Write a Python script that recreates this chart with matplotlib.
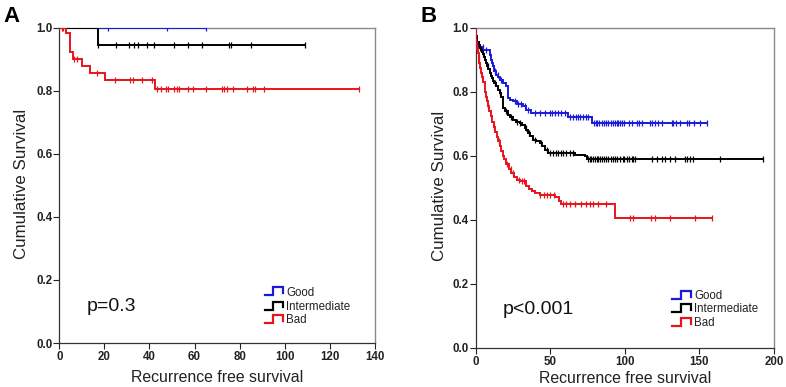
import numpy as np
import matplotlib
matplotlib.use("Agg")
import matplotlib.pyplot as plt

plt.rcParams['font.family'] = ['Liberation Sans', 'DejaVu Sans']

# ---------------- data ----------------
group_names = ["Good", "Intermediate", "Bad"]
group_colors = ["#1a1adc", "#000000", "#e8141c"]

# Panel A
A_good_events = []
A_good_surv = []
A_good_censor = [21.7, 47.9, 65.0]

A_int_events = [17.0]
A_int_surv = [0.944]
A_int_censor = [17.2, 25.0, 31.0, 33.1, 35.0, 38.9, 42.1, 50.9, 57.1, 63.1, 75.1, 76.0, 84.9, 109.1]

A_bad_events = [2.8, 4.7, 5.9, 9.9, 13.8, 20.3, 42.4]
A_bad_surv = [0.983, 0.922, 0.902, 0.877, 0.856, 0.834, 0.805]
A_bad_censor = [1.2, 1.8, 6.4, 7.9, 16.6, 24.7, 31.3, 32.8, 36.8, 40.9, 43.2, 45.1, 47.2, 48.4,
                50.7, 52.0, 53.1, 56.9, 59.4, 64.9, 72.3, 73.2, 74.2, 77.2, 83.2, 86.0, 86.9, 90.9, 133.0]

# Panel B
B_good_events = [0.2, 1, 5, 9.4, 10, 11, 11.6, 12.5, 13.8, 15, 16.1, 18, 20.6, 21.7, 23, 25, 28,
                 31.7, 34, 37.3, 61.9, 78.2]
B_good_surv = [0.975, 0.94, 0.931, 0.915, 0.90, 0.89, 0.879, 0.866, 0.853, 0.845, 0.8375, 0.827,
               0.817, 0.78, 0.775, 0.77, 0.762, 0.754, 0.744, 0.733, 0.722, 0.702]
B_good_censor = [4.9, 7.1, 12.7, 14.9, 17.1, 26.1, 28.4, 30.6, 32.9, 35.1, 39.6, 43.0, 46.3, 49.6,
                 51.4, 52.9, 55.2, 57.4, 59.7, 63.0, 65.3, 67.0, 68.6, 70.2, 71.9, 73.7, 75.3, 79.5,
                 80.5, 81.6, 82.5, 84.5, 86.0, 87.4, 89.0, 90.5, 91.9, 93.4, 94.6, 95.7, 96.8, 97.9,
                 99.5, 103.0, 104.6, 108.4, 109.7, 111.3, 116.9, 118.0, 120.3, 121.9, 124.8, 131.5,
                 132.6, 134.4, 137.1, 141.6, 142.7, 146.5, 150.5, 155.0]

B_int_events = [0.2, 1.0, 2.0, 2.7, 3.5, 4.2, 4.9, 5.5, 6.2, 7.1, 7.8, 8.5, 9.4, 10.2, 11.0, 11.6,
                12.5, 13.8, 15.0, 16.0, 17.1, 18.2, 19.5, 21.6, 23.0, 25.0, 27.0, 29.5, 31.0, 32.9,
                34.0, 35.1, 36.5, 38.5, 40.5, 42.9, 44.5, 46.3, 48.6, 66.4, 73.2, 74.3]
B_int_surv = [0.975, 0.955, 0.947, 0.937, 0.93, 0.925, 0.918, 0.91, 0.90, 0.89, 0.88, 0.87, 0.858,
              0.85, 0.843, 0.835, 0.826, 0.817, 0.805, 0.795, 0.785, 0.749, 0.74, 0.728, 0.72,
              0.7125, 0.707, 0.702, 0.695, 0.687, 0.68, 0.67, 0.662, 0.65, 0.645, 0.64, 0.63,
              0.619, 0.608, 0.603, 0.598, 0.59]
B_int_censor = [3.0, 5.2, 8.0, 13.0, 16.5, 20.0, 24.0, 27.5, 30.0, 33.5, 36.0, 40.0, 44.0, 47.5,
                49.6, 51.8, 54.1, 55.2, 57.4, 58.5, 60.8, 63.0, 65.3, 75.3, 76.5, 77.6, 78.8, 80.0,
                81.0, 82.0, 83.2, 84.5, 86.0, 87.4, 89.0, 90.5, 91.9, 93.4, 94.9, 96.8, 98.6, 99.5,
                101.3, 103.1, 104.6, 105.7, 106.9, 118.0, 121.4, 124.7, 127.0, 130.3, 133.7, 140.4,
                142.0, 143.7, 146.0, 163.8, 192.5]

B_bad_events = [0.2, 0.5, 1, 1.5, 2, 2.5, 3, 3.5, 4, 5, 6, 6.5, 7, 7.5, 8, 9, 10, 11, 12, 13, 14,
                15, 16, 17, 18, 19, 20, 22, 24, 26, 28, 30, 34, 36, 38, 40, 43, 53.4, 55.7, 57.3, 93.6]
B_bad_surv = [0.975, 0.955, 0.935, 0.92, 0.905, 0.89, 0.875, 0.86, 0.845, 0.83, 0.815, 0.80, 0.785,
              0.77, 0.755, 0.74, 0.725, 0.705, 0.69, 0.675, 0.66, 0.645, 0.63, 0.615, 0.60, 0.59,
              0.575, 0.56, 0.545, 0.535, 0.525, 0.52, 0.505, 0.495, 0.49, 0.485, 0.478, 0.47, 0.46,
              0.45, 0.405]
B_bad_censor = [1.2, 2.2, 4.5, 8.5, 12.5, 15.5, 21.0, 23.5, 25.0, 29.0, 31.0, 32.5, 43.3, 45.6, 47.8,
                50.1, 52.3, 58.5, 60.8, 63.0, 66.4, 70.8, 74.2, 76.4, 78.6, 82.0, 87.6, 103.2, 105.5,
                117.8, 120.1, 130.1, 146.9, 158.7]

A_xticks = [0, 20, 40, 60, 80, 100, 120, 140]
B_xticks = [0, 50, 100, 150, 200]
yticks = [0.0, 0.2, 0.4, 0.6, 0.8, 1.0]
p_texts = ["p=0.3", "p<0.001"]
panel_labels = ["A", "B"]


def step_value(events, surv, t):
    ev = np.asarray(events, float)
    sv = np.concatenate([[1.0], np.asarray(surv, float)])
    idx = np.searchsorted(ev, t, side='right')
    return sv[idx]


def km(ax, events, surv, censor, color):
    end = max(list(censor) + list(events))
    t = np.concatenate([[0.0], events, [end]])
    s = np.concatenate([[1.0], surv, [surv[-1] if len(surv) else 1.0]])
    ax.step(t, s, where='post', color=color, lw=1.4, solid_joinstyle='miter', zorder=3)
    cy = [step_value(events, surv, c) for c in censor]
    ax.plot(censor, cy, linestyle='none', marker='|', ms=5, mew=0.9, color=color, zorder=3)


fig = plt.figure(figsize=(7.86, 3.87), dpi=100)
W, H = 786, 387

def add_axes_px(l, r, t, b):
    return fig.add_axes([l / W, (H - b) / H, (r - l) / W, (b - t) / H])

axA = add_axes_px(59.3, 375.0, 27.7, 343.0)
axB = add_axes_px(475.7, 774.0, 27.7, 348.0)

for e, s, c, col in zip([A_good_events, A_int_events, A_bad_events],
                        [A_good_surv, A_int_surv, A_bad_surv],
                        [A_good_censor, A_int_censor, A_bad_censor], group_colors):
    km(axA, e, s, c, col)
for e, s, c, col in zip([B_good_events, B_int_events, B_bad_events],
                        [B_good_surv, B_int_surv, B_bad_surv],
                        [B_good_censor, B_int_censor, B_bad_censor], group_colors):
    km(axB, e, s, c, col)

specs = [
    (axA, A_xticks, (0, 140), (-0.120, 0.505), -0.111, 0.088, 0.115, (0.652, 0.709, 0.718), [0.160, 0.115, 0.073]),
    (axB, B_xticks, (0, 200), (-0.123, 0.506), -0.095, 0.0915, 0.119, (0.659, 0.723, 0.732), [0.1625, 0.121, 0.077]),
]
for i, (ax, xt, xl, ylc, xly, px, py, lx, ly) in enumerate(specs):
    ax.set_xlim(*xl)
    ax.set_ylim(0, 1.0)
    ax.set_xticks(xt)
    ax.set_xticklabels([str(v) for v in xt], fontweight='bold', fontsize=8.3)
    ax.set_yticks(yticks)
    ax.set_yticklabels([f"{v:.1f}" for v in yticks], fontweight='bold', fontsize=8.3)
    ax.tick_params(axis='y', direction='out', length=4, width=0.8, pad=1, colors='#222222')
    ax.tick_params(axis='x', direction='out', length=4, width=0.8, pad=2, colors='#222222')
    for sp in ['top', 'right']:
        ax.spines[sp].set_color('#8a8a8a')
        ax.spines[sp].set_linewidth(1.0)
    for sp in ['left', 'bottom']:
        ax.spines[sp].set_color('#333333')
        ax.spines[sp].set_linewidth(0.9)
    ax.set_ylabel("Cumulative Survival", fontsize=12.2, color='#222222', va='center', ha='center')
    ax.set_xlabel("Recurrence free survival", fontsize=11.4, color='#222222', va='center', ha='center')
    ax.yaxis.set_label_coords(*ylc)
    ax.xaxis.set_label_coords(0.5, xly)
    ax.text(px, py, p_texts[i], transform=ax.transAxes, fontsize=14, va='center', ha='left',
            color='#111111')
    # legend with step icons
    x0, x1, xt_ = lx
    xm = x0 + (x1 - x0) * 0.45
    for name, col, yy in zip(group_names, group_colors, ly):
        dy = 0.018
        ax.plot([x0, xm, xm, x1, x1], [yy - dy * 0.5, yy - dy * 0.5, yy + dy * 0.9, yy + dy * 0.9, yy - dy * 0.1],
                transform=ax.transAxes, color=col, lw=1.6, solid_joinstyle='miter', clip_on=False)
        ax.text(xt_, yy, name, transform=ax.transAxes, fontsize=8.3, va='center', ha='left',
                color='#222222')

fig.text(3 / W, 1 - 17 / H, panel_labels[0], fontsize=16, fontweight='bold', va='center', ha='left')
fig.text(421 / W, 1 - 17 / H, panel_labels[1], fontsize=16, fontweight='bold', va='center', ha='left')

fig.savefig("out.png", dpi=100)
